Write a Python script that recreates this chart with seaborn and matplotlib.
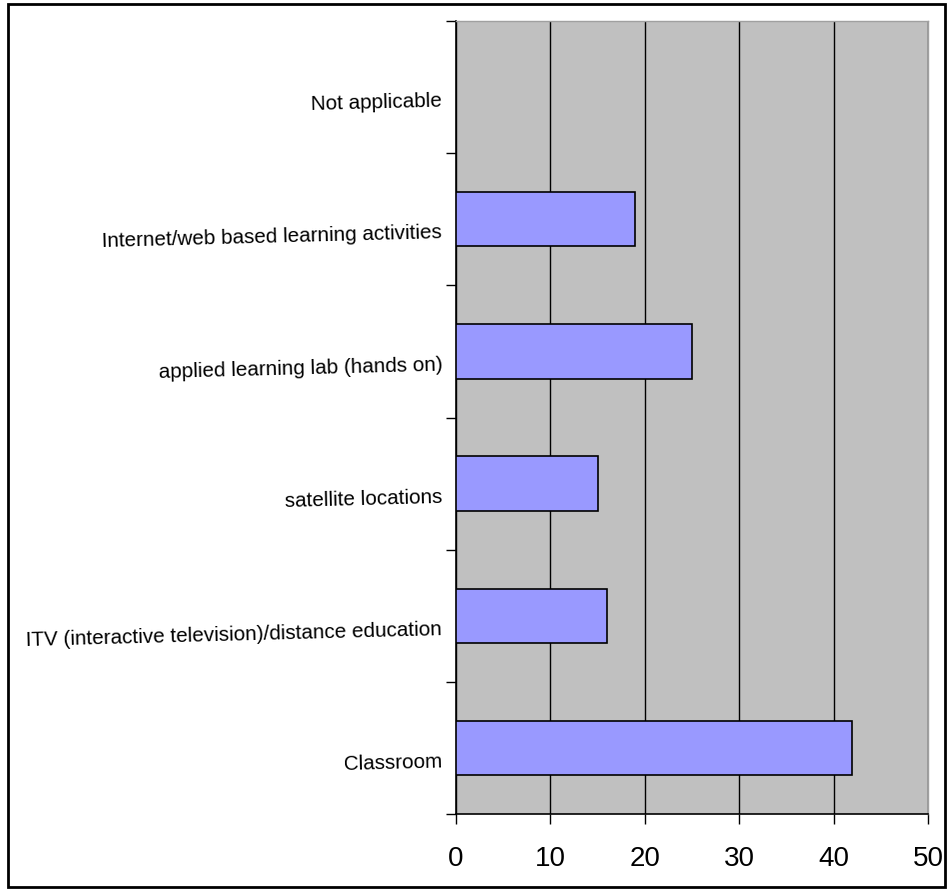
import matplotlib
matplotlib.use('Agg')
import matplotlib.pyplot as plt
import seaborn as sns
import pandas as pd
from matplotlib.patches import Rectangle
from matplotlib.ticker import FixedLocator

categories = ['Not applicable',
              'Internet/web based learning activities',
              'applied learning lab (hands on)',
              'satellite locations',
              'ITV (interactive television)/distance education',
              'Classroom']
values = [0, 19, 25, 15, 16, 42]
x_ticks = [0, 10, 20, 30, 40, 50]

df = pd.DataFrame({'category': categories, 'value': values})

sns.set_style('white')
plt.rcParams['font.family'] = ['Liberation Sans', 'DejaVu Sans']
plt.rcParams['text.color'] = 'black'
plt.rcParams['xtick.color'] = 'black'
plt.rcParams['ytick.color'] = 'black'

fig = plt.figure(figsize=(9.52, 8.95), dpi=100)
ax = fig.add_axes([456 / 952, 1 - 815 / 895, 472 / 952, 793 / 895])
ax.set_facecolor('#C0C0C0')

sns.barplot(data=df, x='value', y='category', order=categories, orient='h',
            color='#9999FF', saturation=1, width=0.41,
            edgecolor='black', linewidth=1.2, ax=ax, zorder=3)

ax.set_xlim(0, 50)
ax.set_ylim(len(categories) - 0.5, -0.5)
ax.set_xticks(x_ticks)
ax.set_xticklabels([str(t) for t in x_ticks], fontsize=20)
ax.xaxis.grid(True, color='black', linewidth=1)
ax.set_axisbelow(True)
ax.set_xlabel('')
ax.set_ylabel('')

# labels sit a little below the bar centres in the original
ax.set_yticks([i + 0.08 for i in range(len(categories))])
ax.set_yticklabels(categories, rotation=1.5, rotation_mode='anchor')

ax.tick_params(axis='x', direction='out', length=7, width=1, color='black',
               labelcolor='black', pad=15, bottom=True)
ax.tick_params(axis='y', which='major', length=0, pad=10, labelsize=14.9,
               labelcolor='black')
ax.yaxis.set_minor_locator(FixedLocator([i - 0.5 for i in range(len(categories) + 1)]))
ax.tick_params(axis='y', which='minor', direction='out', length=7, width=1,
               color='black', left=True)

for side in ['left', 'bottom']:
    ax.spines[side].set_color('black')
    ax.spines[side].set_linewidth(1.2)
for side in ['top', 'right']:
    ax.spines[side].set_color('#A0A0A0')
    ax.spines[side].set_linewidth(1)

fig.patches.append(Rectangle((8 / 952, 1 - 888 / 895), 937 / 952, 883 / 895,
                             transform=fig.transFigure, fill=False,
                             edgecolor='black', linewidth=2))

fig.savefig('out.png', dpi=100)
